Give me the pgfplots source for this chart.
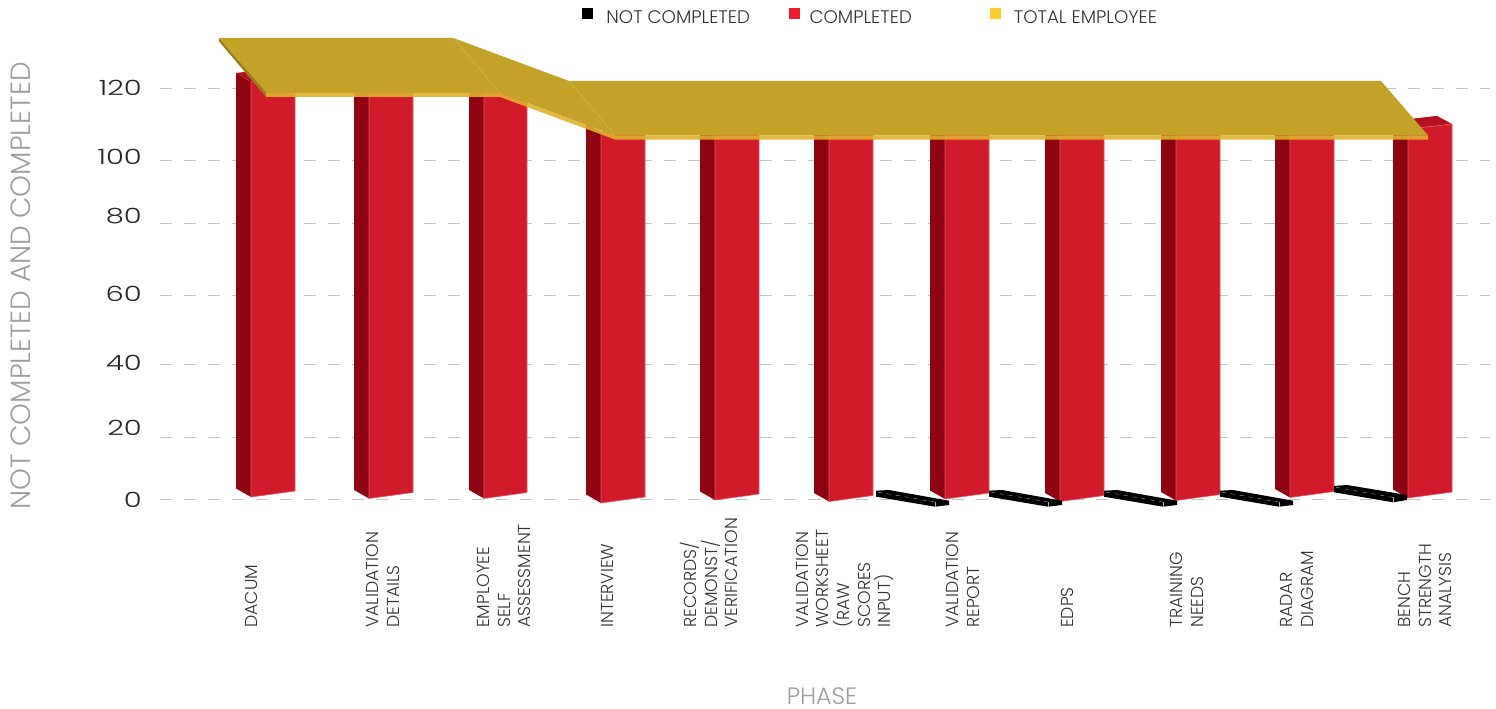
\documentclass[border=0pt]{standalone}
\usepackage{fontspec}
\setmainfont{Poppins Light}
\newfontfamily\widefont[FakeStretch=1.38]{Poppins Light}
\usepackage{pgfplots}
\pgfplotsset{compat=1.18}
\definecolor{frontred}{HTML}{D21B2A}
\definecolor{sidered}{HTML}{8E0410}
\definecolor{topred}{HTML}{B5121F}
\definecolor{gold}{HTML}{C4A227}
\definecolor{goldband}{HTML}{E0B12F}
\definecolor{golddark}{HTML}{9A7B1E}
\definecolor{legyellow}{HTML}{FFCC2E}
\definecolor{legred}{HTML}{EE1C2E}
\definecolor{gridgrey}{HTML}{C4C4C4}
\pgfplotsset{
  front/.style={forget plot,fill=frontred,draw=frontred!75!white,line width=0.6pt},
  side/.style={forget plot,fill=sidered,draw=none},
  topf/.style={forget plot,fill=topred,draw=none},
  slab/.style={forget plot,fill=black,draw=none},
  slabline/.style={forget plot,color=gray!60,line width=0.4pt},
  slabdash/.style={forget plot,color=gray!40,line width=0.3pt,dash pattern=on 4pt off 5pt},
}
\begin{document}
\begin{tikzpicture}
\path[use as bounding box] (0,0) rectangle (1496pt,709pt);
\begin{axis}[
  at={(160pt,209pt)},anchor=south west,
  scale only axis,width=1330pt,height=463.46pt,
  xmin=160,xmax=1490,ymin=0,ymax=135,clip=false,
  axis line style={draw=none},
  major tick length=0pt,
  ytick={0,20,40,60,80,100,120},
  yticklabels={0,\raisebox{6pt}{20},40,60,\raisebox{18pt}{80},100,120},
  yticklabel style={font=\widefont\fontsize{21}{21}\selectfont,text=black!85,inner sep=0pt,xshift=-18pt},
  extra y ticks={0,18.35,39.6,59.7,80.4,98.75,120},
  extra y tick labels={},
  extra y tick style={grid=major,grid style={gridgrey,line width=1pt,dash pattern=on 12pt off 12pt}},
  xtick={251,383,504,607,709,845,963,1067,1187,1297,1425},
  xticklabels={DACUM,{VALIDATION\\DETAILS},{EMPLOYEE\\SELF\\ASSESSMENT},INTERVIEW,{RECORDS/\\DEMONST/\\VERIFICATION},{VALIDATION\\WORKSHEET\\(RAW\\SCORES\\INPUT)},{VALIDATION\\REPORT},EDPS,{TRAINING\\NEEDS},{RADAR\\DIAGRAM},{BENCH\\STRENGTH\\ANALYSIS}},
  xticklabel style={yshift=-128pt,rotate=90,anchor=west,align=left,inner sep=0pt,
    font=\fontsize{17.3}{20.7}\selectfont,text=black!80},
  xlabel={PHASE},ylabel={NOT COMPLETED AND COMPLETED},
  every axis x label/.style={at={(axis description cs:0.4977,-0.4229)},anchor=center,inner sep=0pt,font=\fontsize{23.7}{24}\selectfont,text=black!38},
  every axis y label/.style={at={(axis description cs:-0.1045,0.4617)},anchor=center,rotate=90,font=\fontsize{27.8}{28}\selectfont,text=black!38},
  legend style={draw=none,fill=none,at={(axis description cs:0.3173,1.0615)},anchor=north west,legend columns=3,
    font=\fontsize{18.2}{18.2}\selectfont,text=black!80,inner sep=0pt,
    nodes={inner sep=0pt},
    legend cell align=left,
    /tikz/column sep=0pt},
]
% legend keys
\addlegendimage{legend image code/.code={\fill[black] (0pt,-1pt) rectangle (10pt,9pt);\path[draw=none,fill=none] (0pt,2pt) rectangle (24pt,3pt);}}
\addlegendentry{\makebox[183pt][l]{NOT COMPLETED}}
\addlegendimage{legend image code/.code={\fill[legred] (0pt,-1pt) rectangle (10pt,9pt);\path[draw=none,fill=none] (0pt,2pt) rectangle (20pt,3pt);}}
\addlegendentry{\makebox[180pt][l]{COMPLETED}}
\addlegendimage{legend image code/.code={\fill[legyellow] (0pt,-1pt) rectangle (10pt,9pt);\path[draw=none,fill=none] (0pt,2pt) rectangle (24pt,3pt);}}
\addlegendentry{TOTAL EMPLOYEE}

% COMPLETED: bars as 3-D faces (x in layout units, y in chart value units)
\addplot[side] coordinates {(236,3.35)(251,0.87)(251,121.76)(236,124.4)} --cycle;
\addplot[topf] coordinates {(251,121.76)(295,123.2)(280,125.8)(236,124.4)} --cycle;
\addplot[front] coordinates {(251,0.87)(295,2.62)(295,123.2)(251,121.76)} --cycle;

\addplot[side] coordinates {(354,2.92)(369,0.44)(369,120.7)(354,123.2)} --cycle;
\addplot[front] coordinates {(369,0.44)(413,2.19)(413,122.5)(369,120.7)} --cycle;

\addplot[side] coordinates {(469,2.92)(484,0.44)(484,120.7)(469,123.2)} --cycle;
\addplot[front] coordinates {(484,0.44)(527,2.19)(527,122.5)(484,120.7)} --cycle;

\addplot[side] coordinates {(586,1.61)(601,-0.87)(601,107.2)(586,109.7)} --cycle;
\addplot[front] coordinates {(601,-0.87)(645,0.88)(645,109.0)(601,107.2)} --cycle;

\addplot[side] coordinates {(700,2.48)(715,0)(715,108.1)(700,110.6)} --cycle;
\addplot[front] coordinates {(715,0)(759,1.75)(759,109.8)(715,108.1)} --cycle;

\addplot[side] coordinates {(814,2.04)(829,-0.44)(829,107.7)(814,110.1)} --cycle;
\addplot[front] coordinates {(829,-0.44)(873,1.31)(873,109.4)(829,107.7)} --cycle;

\addplot[side] coordinates {(930,2.77)(945,0.29)(945,108.4)(930,110.9)} --cycle;
\addplot[front] coordinates {(945,0.29)(989,2.04)(989,110.1)(945,108.4)} --cycle;

\addplot[side] coordinates {(1045,2.04)(1060,-0.44)(1060,107.7)(1045,110.1)} --cycle;
\addplot[front] coordinates {(1060,-0.44)(1104,1.31)(1104,109.4)(1060,107.7)} --cycle;

\addplot[side] coordinates {(1161,2.33)(1176,-0.15)(1176,108)(1161,110.4)} --cycle;
\addplot[front] coordinates {(1176,-0.15)(1220,1.6)(1220,109.7)(1176,108)} --cycle;

\addplot[side] coordinates {(1275,3.21)(1290,0.73)(1290,108.8)(1275,111.3)} --cycle;
\addplot[front] coordinates {(1290,0.73)(1334,2.48)(1334,110.6)(1290,108.8)} --cycle;

\addplot[side] coordinates {(1393,3.06)(1408,0.58)(1408,108.07)(1393,110.4)} --cycle;
\addplot[topf] coordinates {(1408,108.07)(1452,109.5)(1437,111.9)(1393,110.4)} --cycle;
\addplot[front] coordinates {(1408,0.58)(1452,2.33)(1452,109.5)(1408,108.07)} --cycle;

% NOT COMPLETED: thin slabs
\addplot[slab] coordinates {(876,2.71)(889,2.91)(949,-0.2)(949,-1.46)(935,-1.95)(876,0.96)} --cycle;
\addplot[slabdash] coordinates {(878,2.3)(935,-0.6)};
\addplot[slabline] coordinates {(935,-1.95)(935,-0.6)};
\addplot[slab] coordinates {(989,2.71)(1002,2.91)(1062,-0.2)(1062,-1.46)(1048,-1.95)(989,0.96)} --cycle;
\addplot[slabdash] coordinates {(991,2.3)(1048,-0.6)};
\addplot[slabline] coordinates {(1048,-1.95)(1048,-0.6)};
\addplot[slab] coordinates {(1104,2.71)(1117,2.91)(1177,-0.2)(1177,-1.46)(1163,-1.95)(1104,0.96)} --cycle;
\addplot[slabdash] coordinates {(1106,2.3)(1163,-0.6)};
\addplot[slabline] coordinates {(1163,-1.95)(1163,-0.6)};
\addplot[slab] coordinates {(1220,2.71)(1233,2.91)(1293,-0.2)(1293,-1.46)(1279,-1.95)(1220,0.96)} --cycle;
\addplot[slabdash] coordinates {(1222,2.3)(1279,-0.6)};
\addplot[slabline] coordinates {(1279,-1.95)(1279,-0.6)};
\addplot[slab] coordinates {(1334,4.08)(1347,4.37)(1407,1.46)(1407,0)(1393,-0.67)(1334,2.24)} --cycle;
\addplot[slabdash] coordinates {(1336,3.7)(1393,0.75)};
\addplot[slabline] coordinates {(1393,-0.67)(1393,0.75)};

% TOTAL EMPLOYEE: ribbon
\addplot[forget plot,fill=gold,draw=none] coordinates {(219,134.6)(453,134.6)(569,122.05)(1381,122.05)(1428,106.2)(615,106.2)(500,118.6)(266,118.6)} --cycle;
\addplot[forget plot,fill=golddark,draw=none] coordinates {(219,134.6)(266,118.6)(266,117.4)(219,133.6)} --cycle;
\addplot[forget plot,fill=goldband,draw=none,fill opacity=0.9] coordinates {(266,118.6)(500,118.6)(615,106.2)(1428,106.2)(1428,105.0)(615,105.0)(500,117.4)(266,117.4)} --cycle;
\addplot[forget plot,color=gold!80!white,line width=0.5pt] coordinates {(453,134.6)(500,118.6)};
\addplot[forget plot,color=gold!80!white,line width=0.5pt] coordinates {(569,122.05)(615,106.2)};
\end{axis}
\end{tikzpicture}
\end{document}
